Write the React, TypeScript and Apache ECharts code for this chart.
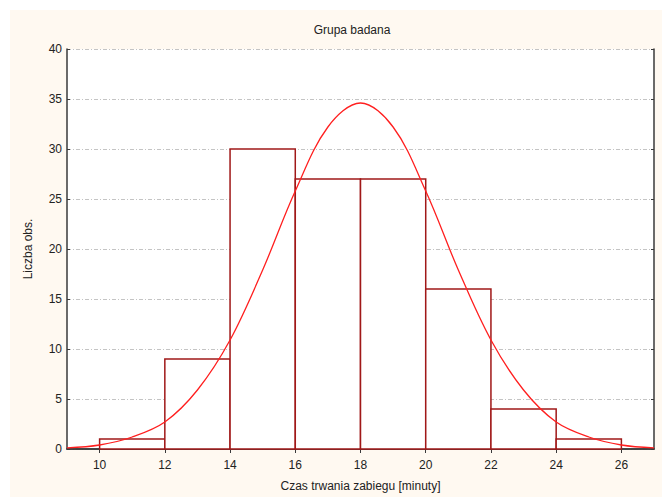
import React, { useEffect, useRef } from "react";
import * as echarts from "echarts";

const binStarts = [10, 12, 14, 16, 18, 20, 22, 24];
const binEnds = [12, 14, 16, 18, 20, 22, 24, 26];
const counts = [1, 9, 30, 27, 27, 16, 4, 1];

const curveX = [9, 10, 11, 12, 13, 14, 15, 16, 17, 18, 19, 20, 21, 22, 23, 24, 25, 26, 27];
const curveY = [0.12, 0.4, 1.2, 2.7, 5.9, 10.9, 17.9, 25.8, 32.2, 34.6, 32.2, 25.8, 17.9, 10.9, 5.9, 2.7, 1.2, 0.4, 0.12];

const xTicks = [10, 12, 14, 16, 18, 20, 22, 24, 26];

export default function App() {
  const ref = useRef<HTMLDivElement>(null);
  useEffect(() => {
    document.body.style.margin = "0";
    const chart = echarts.init(ref.current!, null, { renderer: "svg" });
    const font = "Liberation Sans, Arial, sans-serif";
    const axisColor = "#3a3a3a";
    const barData = binStarts.map((s, i) => [s, binEnds[i], counts[i]]);
    chart.setOption({
      animation: false,
      backgroundColor: "#ffffff",
      graphic: [
        {
          type: "rect",
          z: -10,
          silent: true,
          shape: { x: 10, y: 10, width: 660, height: 490 },
          style: { fill: "#fff9f1" },
        },
      ],
      title: {
        text: "Grupa badana",
        left: 347,
        textAlign: "center",
        top: 19,
        textStyle: { fontFamily: font, fontSize: 12, fontWeight: "normal", color: "#222" },
      },
      grid: {
        left: 67,
        right: 8,
        top: 49,
        bottom: 40,
        show: true,
        backgroundColor: "#ffffff",
        borderWidth: 0,
      },
      xAxis: [
        {
          type: "value",
          min: 9,
          max: 27,
          position: "bottom",
          name: "Czas trwania zabiegu [minuty]",
          nameLocation: "middle",
          nameGap: 31,
          nameTextStyle: { fontFamily: font, fontSize: 12, color: "#222" },
          axisLine: { show: true, lineStyle: { color: axisColor, width: 1.5 } },
          axisTick: { show: true, inside: true, length: 4, customValues: xTicks, lineStyle: { color: axisColor } },
          axisLabel: { customValues: xTicks, fontFamily: font, fontSize: 12, color: "#222", margin: 10 },
          splitLine: { show: false },
        },
        {
          type: "value",
          min: 9,
          max: 27,
          position: "top",
          axisLine: { show: true, lineStyle: { color: axisColor, width: 1.5 } },
          axisTick: { show: true, inside: true, length: 4, customValues: xTicks, lineStyle: { color: axisColor } },
          axisLabel: { show: false },
          splitLine: { show: false },
        },
      ],
      yAxis: [
        {
          type: "value",
          min: 0,
          max: 40,
          interval: 5,
          position: "left",
          name: "Liczba obs.",
          nameLocation: "middle",
          nameGap: 33,
          nameTextStyle: { fontFamily: font, fontSize: 12, color: "#222" },
          axisLine: { show: true, lineStyle: { color: axisColor, width: 1.5 } },
          axisTick: { show: true, inside: true, length: 3, lineStyle: { color: axisColor } },
          axisLabel: { fontFamily: font, fontSize: 12, color: "#222", margin: 5 },
          splitLine: {
            show: true,
            lineStyle: { color: "#c4c4c4", width: 1, type: [4, 2, 1, 2] },
          },
        },
        {
          type: "value",
          min: 0,
          max: 40,
          interval: 5,
          position: "right",
          axisLine: { show: true, lineStyle: { color: axisColor, width: 1.5 } },
          axisTick: { show: true, inside: true, length: 3, lineStyle: { color: axisColor } },
          axisLabel: { show: false },
          splitLine: { show: false },
        },
      ],
      series: [
        {
          type: "custom",
          xAxisIndex: 0,
          yAxisIndex: 0,
          z: 2,
          data: barData,
          renderItem: (params: any, api: any) => {
            const p0 = api.coord([api.value(0), api.value(2)]);
            const p1 = api.coord([api.value(1), 0]);
            return {
              type: "rect",
              shape: { x: p0[0], y: p0[1], width: p1[0] - p0[0], height: p1[1] - p0[1] },
              style: { fill: "#ffffff", stroke: "#a01818", lineWidth: 1.5 },
            };
          },
        },
        {
          type: "line",
          xAxisIndex: 0,
          yAxisIndex: 0,
          z: 3,
          smooth: 0.35,
          symbol: "none",
          data: curveX.map((x, i) => [x, curveY[i]]),
          lineStyle: { color: "#ff1f1f", width: 1.3 },
        },
      ],
    });
    return () => chart.dispose();
  }, []);
  return <div ref={ref} style={{ width: 662, height: 497 }} />;
}
